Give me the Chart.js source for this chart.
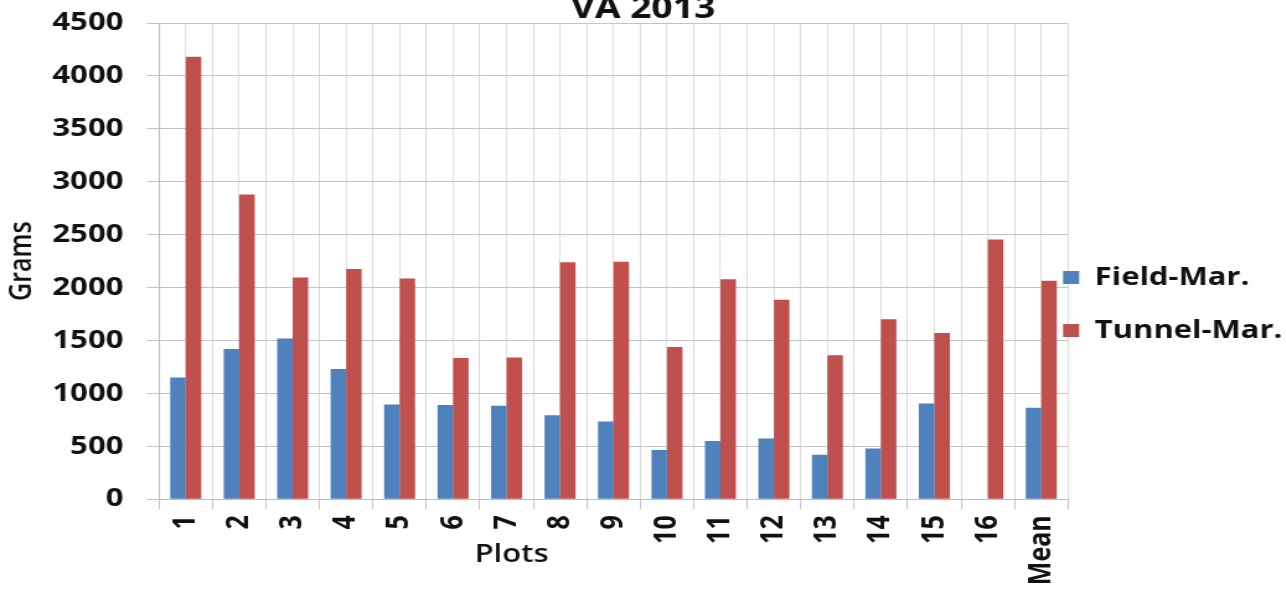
<!DOCTYPE html>
<html>
<head>
<meta charset="utf-8">
<title>VA 2013</title>
<script src="https://cdn.jsdelivr.net/npm/chart.js@4/dist/chart.umd.min.js"></script>
<style>
  html, body { margin: 0; padding: 0; background: #ffffff; overflow: hidden; }
  body { width: 1286px; height: 589px; position: relative; }
  /* The chart is laid out on a narrower canvas and widened horizontally,
     which gives the wide lettering of the printed figure. */
  #wrap {
    position: absolute; left: 0; top: -13px;
    width: 1037px; height: 602px;
    transform: scaleX(1.24); transform-origin: 0 0;
  }
</style>
</head>
<body>
<div id="wrap"><canvas id="chart"></canvas></div>
<script>
// Plot labels along the x axis
const plots = ['1', '2', '3', '4', '5', '6', '7', '8', '9', '10', '11', '12', '13', '14', '15', '16', 'Mean'];

// Grams per plot (no field value recorded for plot 16)
const fieldMar  = [1150, 1420, 1520, 1230, 895, 890, 885, 795, 735, 465, 550, 575, 420, 480, 905, null, 865];
const tunnelMar = [4180, 2880, 2095, 2175, 2085, 1335, 1340, 2240, 2245, 1440, 2080, 1885, 1360, 1700, 1570, 2455, 2065];

// Value axis ticks
const gramTicks = [0, 500, 1000, 1500, 2000, 2500, 3000, 3500, 4000, 4500];

const seriesNames = ['Field-Mar.', 'Tunnel-Mar.'];
const FIELD_BLUE = '#4F81BD';
const TUNNEL_RED = '#C0504D';

const TICK_FONT = { family: '"Open Sans", "DejaVu Sans", sans-serif', weight: '700', size: 25 };
const AXIS_TITLE_FONT = { family: '"Open Sans", "DejaVu Sans", sans-serif', weight: '600', size: 25 };

// Moves the legend block next to the plot edge, level with the middle bars.
const legendPlacement = {
  id: 'legendPlacement',
  afterLayout(chart) {
    const lg = chart.legend;
    if (!lg) return;
    const dx = -32, dy = 16;
    lg.left += dx;
    lg.top += dy; lg.bottom += dy;
  }
};

// "Plots" caption under the rotated category labels.
const plotsCaption = {
  id: 'plotsCaption',
  afterDraw(chart) {
    const x = chart.scales.x;
    const ctx = chart.ctx;
    ctx.save();
    ctx.font = AXIS_TITLE_FONT.weight + ' ' + AXIS_TITLE_FONT.size + 'px ' + AXIS_TITLE_FONT.family;
    ctx.fillStyle = '#111111';
    ctx.textAlign = 'center';
    ctx.textBaseline = 'middle';
    ctx.fillText('Plots', x.getPixelForValue(6) + 4, chart.chartArea.bottom + 56);
    ctx.restore();
  }
};

new Chart(document.getElementById('chart'), {
  type: 'bar',
  data: {
    labels: plots,
    datasets: [
      { label: seriesNames[0], data: fieldMar, backgroundColor: FIELD_BLUE, borderWidth: 0 },
      { label: seriesNames[1], data: tunnelMar, backgroundColor: TUNNEL_RED, borderWidth: 0 }
    ]
  },
  options: {
    responsive: true,
    maintainAspectRatio: false,
    animation: false,
    events: [],
    layout: { padding: 0 },
    datasets: { bar: { categoryPercentage: 0.58, barPercentage: 1.0 } },
    plugins: {
      title: {
        display: true,
        text: 'VA 2013',
        color: '#111111',
        font: { family: '"Open Sans", "DejaVu Sans", sans-serif', weight: '700', size: 30 },
        padding: { top: 4, bottom: -4 }
      },
      legend: {
        display: true,
        position: 'right',
        maxWidth: 175.7,
        labels: {
          color: '#111111',
          font: TICK_FONT,
          boxWidth: 13,
          boxHeight: 13,
          padding: 28
        }
      },
      tooltip: { enabled: false }
    },
    scales: {
      x: {
        type: 'category',
        offset: true,
        grid: { offset: true, color: '#d9d9d9', lineWidth: 1, tickLength: 10, tickColor: '#c4c4c4' },
        border: { display: true, color: '#bdbdbd', width: 1 },
        ticks: {
          autoSkip: false, minRotation: 90, maxRotation: 90,
          color: '#111111', font: TICK_FONT, padding: 6
        },
        afterFit(scale) { scale.height = 89.7; }
      },
      xCenters: {
        type: 'category',
        labels: plots,
        position: 'bottom',
        offset: true,
        grid: { offset: false, color: '#dedede', lineWidth: 1, drawTicks: false },
        border: { display: false },
        ticks: { display: false },
        afterFit(scale) { scale.height = 0; }
      },
      y: {
        type: 'linear',
        min: gramTicks[0],
        max: gramTicks[gramTicks.length - 1],
        afterBuildTicks(scale) { scale.ticks = gramTicks.map(v => ({ value: v })); },
        grid: { color: '#c4c4c4', lineWidth: 1, tickLength: 9.7, tickColor: '#c4c4c4' },
        border: { display: true, color: '#bdbdbd', width: 1 },
        ticks: {
          color: '#111111', font: TICK_FONT, padding: 19,
          callback: (value) => String(value)
        },
        title: {
          display: true,
          text: 'Grams',
          color: '#111111',
          font: AXIS_TITLE_FONT,
          padding: { top: 3, bottom: 3 }
        },
        afterFit(scale) { scale.width = 128.2; }
      }
    }
  },
  plugins: [legendPlacement, plotsCaption]
});
</script>
</body>
</html>
